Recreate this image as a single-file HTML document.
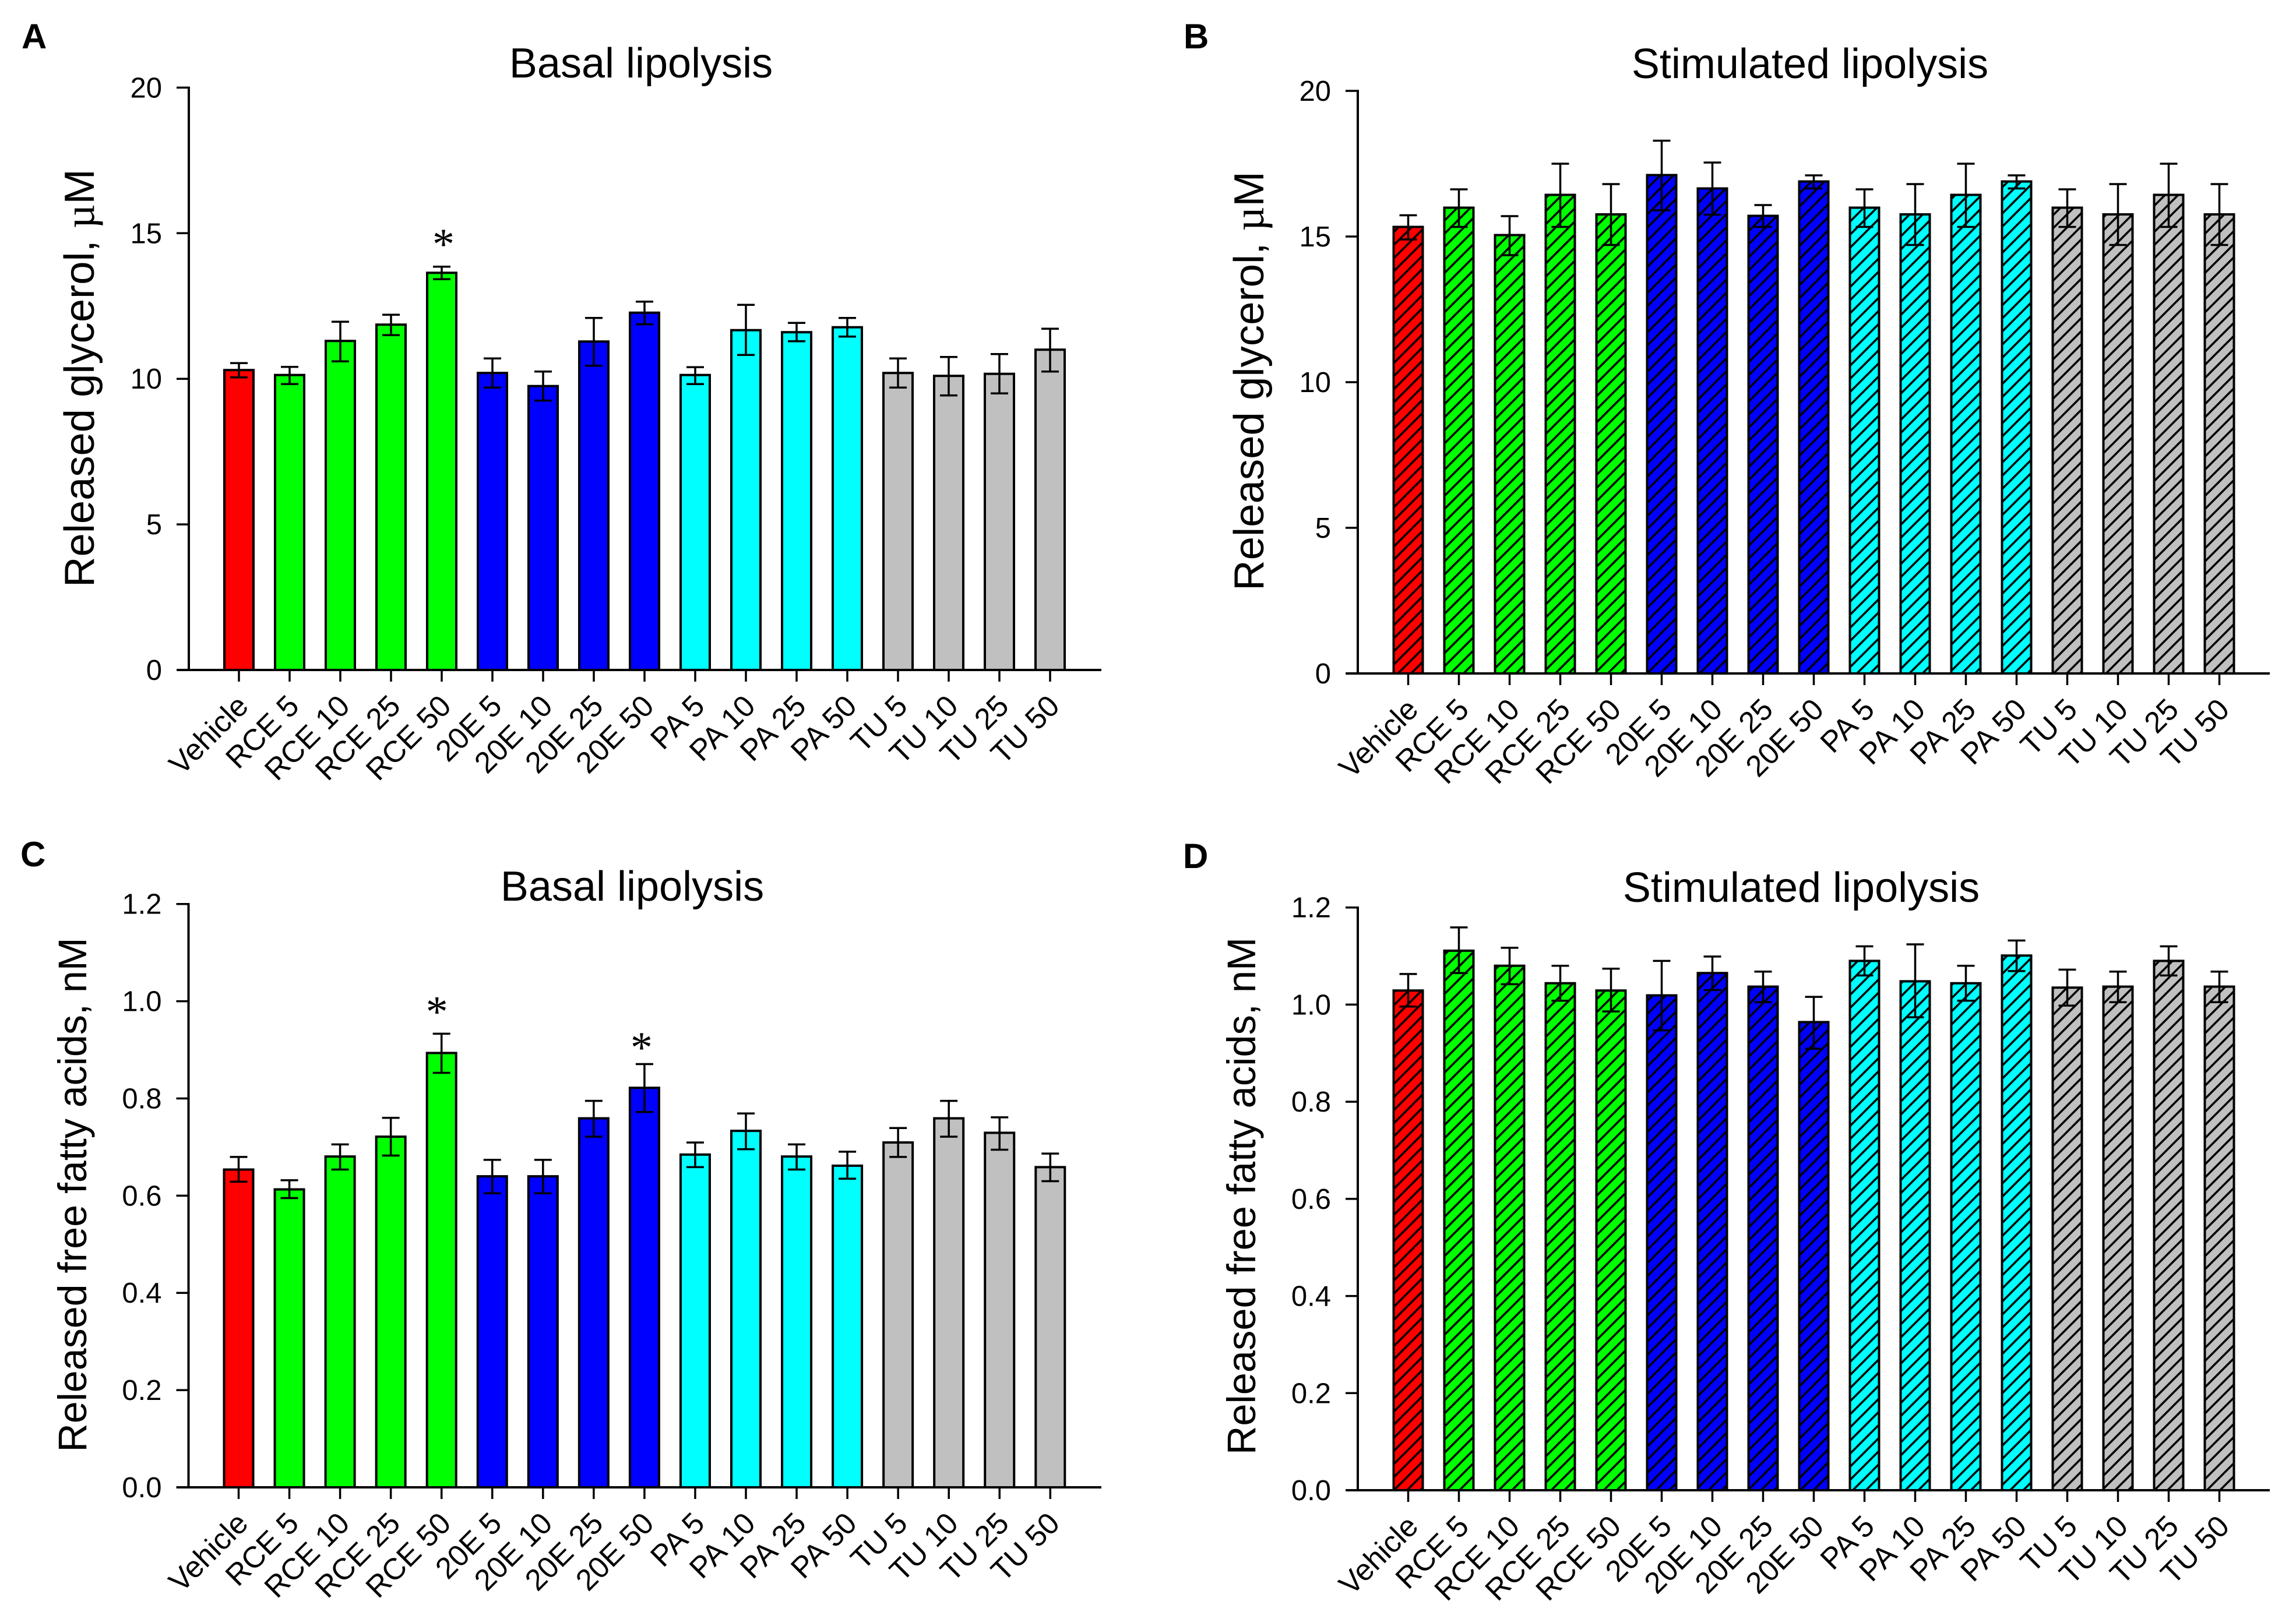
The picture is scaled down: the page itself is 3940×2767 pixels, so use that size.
<!DOCTYPE html>
<html lang="en">
<head>
<meta charset="utf-8">
<title>Basal and stimulated lipolysis</title>
<style>
html,body{margin:0;padding:0;background:#fff;}
svg{display:block;}
text{font-family:"Liberation Sans",sans-serif;fill:#000;}
.pl{font-size:60px;font-weight:bold;}
.tt{font-size:72px;}
</style>
</head>
<body>
<svg id="figure" xmlns="http://www.w3.org/2000/svg" width="3940" height="2767" viewBox="0 0 3940 2767">
<defs>
<pattern id="hatch" patternUnits="userSpaceOnUse" width="22.5" height="22.5">
<path d="M-5.625,5.625 L5.625,-5.625 M0,22.5 L22.5,0 M16.875,28.125 L28.125,16.875" stroke="#000" stroke-width="3.6" fill="none"/>
</pattern>
</defs>
<rect width="3940" height="2767" fill="#fff"/>
<text class="pl" x="37" y="83">A</text>
<text class="pl" x="2031" y="83">B</text>
<text class="pl" x="35" y="1487">C</text>
<text class="pl" x="2030" y="1490">D</text>
<text class="tt" x="1100" y="133" text-anchor="middle">Basal lipolysis</text>
<text class="tt" x="3106" y="134" text-anchor="middle">Stimulated lipolysis</text>
<text class="tt" x="1085" y="1546" text-anchor="middle">Basal lipolysis</text>
<text class="tt" x="3091" y="1548" text-anchor="middle">Stimulated lipolysis</text>
<text transform="translate(161,649) rotate(-90)" text-anchor="middle" font-size="72.4">Released glycerol, <tspan style="font-family:'Liberation Serif',serif">µ</tspan>M</text>
<text transform="translate(2168,654) rotate(-90)" text-anchor="middle" font-size="72.6">Released glycerol, <tspan style="font-family:'Liberation Serif',serif">µ</tspan>M</text>
<text transform="translate(148,2051) rotate(-90)" text-anchor="middle" font-size="68.2">Released free fatty acids, nM</text>
<text transform="translate(2154,2053) rotate(-90)" text-anchor="middle" font-size="68.6">Released free fatty acids, nM</text>
</svg>
<script>
const categories = ["Vehicle","RCE 5","RCE 10","RCE 25","RCE 50","20E 5","20E 10","20E 25","20E 50","PA 5","PA 10","PA 25","PA 50","TU 5","TU 10","TU 25","TU 50"];
const groupColors = ["#ff0000","#00ff00","#00ff00","#00ff00","#00ff00","#0000ff","#0000ff","#0000ff","#0000ff","#00ffff","#00ffff","#00ffff","#00ffff","#c0c0c0","#c0c0c0","#c0c0c0","#c0c0c0"];

const meanA  = [10.30,10.13,11.30,11.86,13.64,10.20,9.75,11.28,12.27,10.13,11.67,11.60,11.77,10.20,10.10,10.17,11.00];
const upperA = [10.54,10.41,11.96,12.20,13.85,10.70,10.25,12.09,12.65,10.40,12.54,11.92,12.09,10.70,10.75,10.85,11.72];
const lowerA = [10.05,9.82,10.60,11.50,13.42,9.70,9.25,10.45,11.87,9.82,10.82,11.29,11.45,9.70,9.43,9.50,10.25];

const meanB  = [15.33,15.99,15.05,16.43,15.76,17.11,16.65,15.71,16.89,15.99,15.76,16.43,16.89,15.99,15.76,16.43,15.76];
const upperB = [15.73,16.62,15.70,17.50,16.80,18.29,17.54,16.08,17.10,16.62,16.80,17.50,17.10,16.62,16.80,17.50,16.80];
const lowerB = [14.90,15.33,14.36,15.33,14.71,15.90,15.75,15.33,16.65,15.33,14.71,15.33,16.65,15.33,14.71,15.33,14.71];

const meanC  = [0.6537,0.6129,0.6805,0.7213,0.8935,0.6398,0.6398,0.7591,0.8218,0.6845,0.7333,0.6805,0.6616,0.7094,0.7591,0.7293,0.6587];
const upperC = [0.6796,0.6318,0.7054,0.7601,0.9332,0.6736,0.6736,0.7950,0.8706,0.7094,0.7691,0.7054,0.6905,0.7392,0.7950,0.7611,0.6865];
const lowerC = [0.6288,0.5950,0.6537,0.6825,0.8527,0.6049,0.6049,0.7213,0.7721,0.6587,0.6955,0.6537,0.6348,0.6796,0.7213,0.6945,0.6298];

const meanD  = [1.029,1.111,1.080,1.044,1.029,1.019,1.065,1.037,0.964,1.090,1.048,1.044,1.101,1.035,1.037,1.090,1.037];
const upperD = [1.063,1.159,1.117,1.080,1.074,1.090,1.099,1.068,1.016,1.120,1.124,1.080,1.132,1.072,1.068,1.120,1.068];
const lowerD = [0.996,1.065,1.042,1.008,0.986,0.947,1.030,1.005,0.909,1.060,0.974,1.008,1.069,0.998,1.005,1.060,1.005];

const ticksGlycerol = [0,5,10,15,20];
const tickLabelsGlycerol = ["0","5","10","15","20"];
const ticksAcids = [0,0.2,0.4,0.6,0.8,1.0,1.2];
const tickLabelsAcids = ["0.0","0.2","0.4","0.6","0.8","1.0","1.2"];

const starBarsA = [4];
const starLevelsA = [14.12];
const starBarsC = [4,8];
const starLevelsC = [0.9482,0.8745];

const SVGNS = "http://www.w3.org/2000/svg";
const figure = document.getElementById("figure");

function shape(parent, tag, attrs) {
  const el = document.createElementNS(SVGNS, tag);
  for (const k in attrs) el.setAttribute(k, attrs[k]);
  parent.appendChild(el);
  return el;
}

function drawPanel(p) {
  const yScale = v => p.y0 - (v / p.yMax) * (p.y0 - p.yTop);
  const xScale = i => p.x0 + i * p.step;

  const g = shape(figure, "g", {});
  
  

  p.mean.forEach((v, i) => {
    const cx = xScale(i);
    const w = 50;
    const bar = shape(g, "rect", {x: cx - w / 2, y: yScale(v), width: w, height: p.y0 - yScale(v), fill: groupColors[i], stroke: "none"});
    
    
    if (p.hatched) {
      const hatch = shape(g, "rect", {x: cx - w / 2, y: yScale(v), width: w, height: p.y0 - yScale(v), fill: "url(#hatch)", stroke: "none"});
      
      
    }
    const outline = shape(g, "rect", {x: cx - w / 2, y: yScale(v), width: w, height: p.y0 - yScale(v), fill: "none", stroke: "#000", "stroke-width": 4});
    
    

    const up = yScale(p.upper[i]);
    const lo = yScale(p.lower[i]);
    const err = shape(g, "path", {d: "M" + cx + "," + up + "V" + lo + "M" + (cx - 15) + "," + up + "H" + (cx + 15) + "M" + (cx - 15) + "," + lo + "H" + (cx + 15), stroke: "#000", "stroke-width": 3.5, fill: "none"});
    
    

    const tick = shape(g, "line", {x1: cx, x2: cx, y1: p.y0, y2: p.y0 + 20, stroke: "#000", "stroke-width": 3.5});
    
    

    const lx = cx + p.labelDx;
    const ly = p.y0 + 65;
    const label = shape(g, "text", {x: lx, y: ly, "text-anchor": "end", "font-size": 51.5, transform: "rotate(-45 " + lx + " " + ly + ")"});
    
    
    label.textContent = categories[i];
  });

  const yAxis = shape(g, "line", {x1: p.axisX, x2: p.axisX, y1: p.yTop - 1.75, y2: p.y0, stroke: "#000", "stroke-width": 4});
  
  

  const xAxis = shape(g, "line", {x1: p.axisX - 20, x2: p.xEnd, y1: p.y0, y2: p.y0, stroke: "#000", "stroke-width": 4});
  
  

  p.ticks.forEach((t, i) => {
    const ty = yScale(t);
    const tick = shape(g, "line", {x1: p.axisX - 21, x2: p.axisX, y1: ty, y2: ty, stroke: "#000", "stroke-width": 3.5});
    
    
    const label = shape(g, "text", {x: p.axisX - 46, y: ty + 17, "text-anchor": "end", "font-size": 49});
    
    
    label.textContent = p.tickLabels[i];
  });

  p.starBars.forEach((b, i) => {
    const star = shape(g, "text", {x: xScale(b) + p.starDx[i], y: yScale(p.starLevels[i]), "text-anchor": "middle", "font-size": 76});
    star.style.fontFamily = '"Liberation Serif", serif';
    
    
    star.textContent = "*";
  });
}

drawPanel({mean: meanA, upper: upperA, lower: lowerA, ticks: ticksGlycerol, tickLabels: tickLabelsGlycerol, yMax: 20,
  y0: 1150, yTop: 150.4, x0: 410, step: 87, axisX: 324, xEnd: 1890, labelDx: 19, hatched: false,
  starBars: starBarsA, starLevels: starLevelsA, starDx: [3]});
drawPanel({mean: meanB, upper: upperB, lower: lowerB, ticks: ticksGlycerol, tickLabels: tickLabelsGlycerol, yMax: 20,
  y0: 1156, yTop: 156, x0: 2416.5, step: 87, axisX: 2330, xEnd: 3895, labelDx: 20, hatched: true,
  starBars: [], starLevels: [], starDx: []});
drawPanel({mean: meanC, upper: upperC, lower: lowerC, ticks: ticksAcids, tickLabels: tickLabelsAcids, yMax: 1.2,
  y0: 2553, yTop: 1551.7, x0: 409.5, step: 87.05, axisX: 323.5, xEnd: 1890, labelDx: 19, hatched: false,
  starBars: starBarsC, starLevels: starLevelsC, starDx: [-8,-5]});
drawPanel({mean: meanD, upper: upperD, lower: lowerD, ticks: ticksAcids, tickLabels: tickLabelsAcids, yMax: 1.2,
  y0: 2558, yTop: 1557.7, x0: 2416.5, step: 87, axisX: 2330, xEnd: 3895, labelDx: 20, hatched: true,
  starBars: [], starLevels: [], starDx: []});
</script>
</body>
</html>
